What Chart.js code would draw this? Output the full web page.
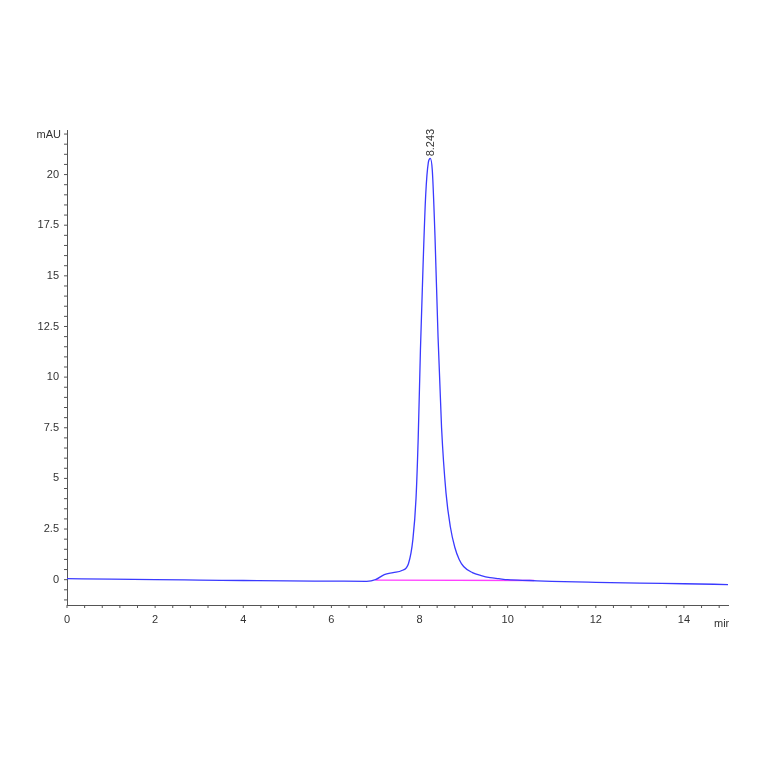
<!DOCTYPE html><html><head><script src="https://cdn.jsdelivr.net/npm/chart.js@4"></script>
<style>body{margin:0;background:#fff}</style></head><body><canvas id="c" width="764" height="764"></canvas>
<script>
const times=[0,1,2,3,4,5,6,6.8,7.0,7.2,7.4,7.6,7.75,7.85,7.92,7.97,8.02,8.08,8.14,8.2,8.243,8.29,8.35,8.42,8.5,8.6,8.7,8.8,8.9,9.0,9.2,9.4,9.6,9.8,10.0,10.5,11,12,13,14,15];
const signal=[0.05,0.03,0.0,-0.02,-0.04,-0.06,-0.07,-0.08,0.0,0.25,0.35,0.45,0.8,2.0,4.0,7.0,11.3,15.5,19.0,20.6,20.8,20.2,17.0,12.0,7.5,4.3,2.6,1.6,1.0,0.65,0.35,0.2,0.1,0.05,0.0,-0.04,-0.08,-0.13,-0.17,-0.2,-0.24];
const baseT=[7.0,10.6];
const baseV=[-0.02,-0.04];
const peakLabel="8.243";
const xTicks=[0,2,4,6,8,10,12,14];
const yTicks=[0,2.5,5,7.5,10,12.5,15,17.5,20];
const deco={id:'deco',afterDraw(ch){const c=ch.ctx,x=ch.scales.x,y=ch.scales.y;c.save();c.strokeStyle='#555';c.lineWidth=1;
for(let v=-1;v<=22;v+=0.5){const p=y.getPixelForValue(v);if(p<y.top||p>y.bottom)continue;c.beginPath();c.moveTo(x.left-3,p);c.lineTo(x.left,p);c.stroke();}
for(let v=0;v<=15;v+=0.4){const p=x.getPixelForValue(v);c.beginPath();c.moveTo(p,y.bottom);c.lineTo(p,y.bottom+3);c.stroke();}
c.fillStyle='#333';c.font='11px Arial';c.textAlign='right';c.fillText('mAU',x.left-6,y.top+8);
c.textAlign='left';c.fillText('mir',x.right-14,y.bottom+22);
const px=x.getPixelForValue(8.243),py=y.getPixelForValue(20.8);c.translate(px+4,py-2);c.rotate(-Math.PI/2);c.fillText(peakLabel,0,0);c.restore();}};
new Chart(document.getElementById('c'),{type:'line',data:{datasets:[
{data:times.map((t,i)=>({x:t,y:signal[i]})),borderColor:'#3a3aff',borderWidth:1.3,pointRadius:0,cubicInterpolationMode:'monotone'},
{data:baseT.map((t,i)=>({x:t,y:baseV[i]})),borderColor:'#ff40ff',borderWidth:1.3,pointRadius:0}]},
options:{animation:false,responsive:false,devicePixelRatio:1,plugins:{legend:{display:false},tooltip:{enabled:false}},
layout:{padding:{left:37,right:36,top:130,bottom:134}},
scales:{x:{type:'linear',min:0,max:15,afterBuildTicks:a=>{a.ticks=xTicks.map(v=>({value:v}))},afterFit:s=>{s.height=25},grid:{display:false,tickLength:6,tickColor:'#555'},border:{color:'#555'},ticks:{color:'#333',font:{size:11,family:'Arial'},maxRotation:0,padding:2}},
y:{min:-1.25,max:22.2,afterBuildTicks:a=>{a.ticks=yTicks.map(v=>({value:v}))},afterFit:s=>{s.width=30},grid:{display:false,tickLength:6,tickColor:'#555'},border:{color:'#555'},ticks:{color:'#333',font:{size:11,family:'Arial'},padding:2}}}},plugins:[deco]});
</script></body></html>
